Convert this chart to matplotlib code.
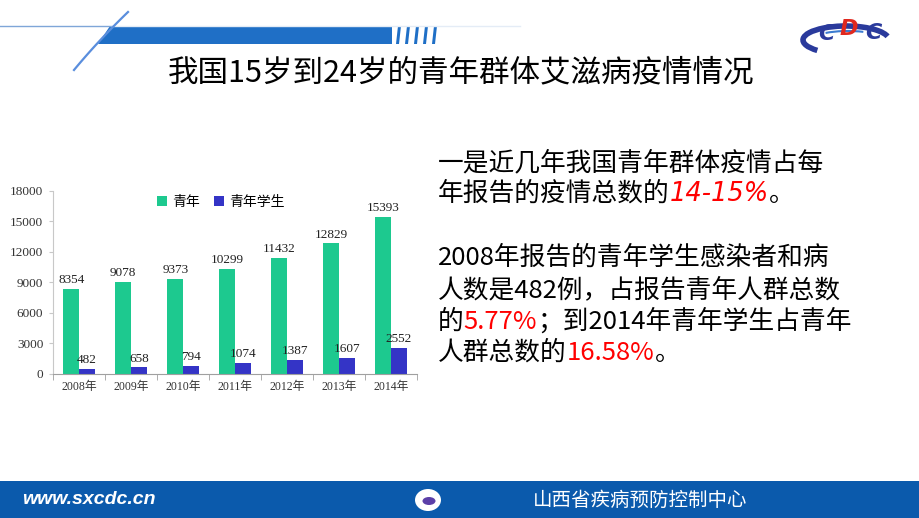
import numpy as np
import matplotlib.pyplot as plt
from matplotlib.patches import Polygon, Rectangle, Ellipse, Arc

plt.rcParams['font.family'] = ['Noto Sans CJK SC', 'DejaVu Sans']

# données du graphique
annees = ['2008年', '2009年', '2010年', '2011年', '2012年', '2013年', '2014年']
jeunes = [8354, 9078, 9373, 10299, 11432, 12829, 15393]
etudiants = [482, 658, 794, 1074, 1387, 1607, 2552]
series_noms = ['青年', '青年学生']
yticks = [0, 3000, 6000, 9000, 12000, 15000, 18000]

vert = '#1DC98F'
bleu = '#3434C6'
serif = ['Liberation Serif', 'Noto Sans CJK SC']

fig = plt.figure(figsize=(9.2, 5.18), dpi=100)

# fond de la diapositive en coordonnées pixel
bg = fig.add_axes([0, 0, 1, 1])
bg.set_xlim(0, 920)
bg.set_ylim(518, 0)
bg.axis('off')

# bandeau d'en-tête
bg.plot([0, 112], [25.5, 25.5], color='#7FA6D8', lw=1)
bg.plot([112, 520], [25.5, 25.5], color='#E4ECF6', lw=1)
bg.add_patch(Polygon([(110, 26), (392, 26), (392, 44), (98, 44)], closed=True,
                     color='#1F6FC6', lw=0))
for k in range(5):
    x0 = 396 + k * 9
    bg.add_patch(Polygon([(x0 + 2, 26), (x0 + 5, 26), (x0 + 3, 44), (x0, 44)],
                         closed=True, color='#1F6FC6', lw=0))
t = np.linspace(0, 1, 30)
bg.plot(128 - 54 * t - 6 * t * (1 - t), 12 + 58 * t, color='#5A8EDD', lw=1.6)

# logo CDC
bg.add_patch(Arc((846, 40), 86, 28, theta1=160, theta2=355, color='#2A3A9C', lw=4))
bg.add_patch(Arc((848, 39), 68, 16, theta1=195, theta2=335, color='#3B7BD0', lw=1.5))
bg.text(826, 34, 'C', color='#2A3A9C', fontsize=16, fontweight='bold',
        style='italic', family='DejaVu Sans', ha='center', va='center')
bg.text(849, 29, 'D', color='#E0281E', fontsize=16, fontweight='bold',
        style='italic', family='DejaVu Sans', ha='center', va='center')
bg.text(873, 33, 'C', color='#2A3A9C', fontsize=16, fontweight='bold',
        style='italic', family='DejaVu Sans', ha='center', va='center')

# titre
bg.text(461, 73, '我国15岁到24岁的青年群体艾滋病疫情情况', fontsize=22,
        ha='center', va='center', color='black')

# pied de page
bg.add_patch(Rectangle((0, 481), 920, 37, color='#0B5AAC', lw=0))
bg.text(22, 500, 'www.sxcdc.cn', color='white', fontsize=14, fontweight='bold',
        style='italic', family='Liberation Sans', ha='left', va='center')
bg.add_patch(Ellipse((428, 500), 26, 22, color='white', lw=0))
bg.add_patch(Ellipse((429, 501), 13, 8, color='#5B3FA8', lw=0))
bg.text(640, 500, '山西省疾病预防控制中心', color='white', fontsize=14,
        ha='center', va='center')

# texte de droite
lignes = [
    (163, [('一是近几年我国青年群体疫情占每', 'black', 'normal')]),
    (194, [('年报告的疫情总数的', 'black', 'normal'), ('14-15%', 'red', 'italic'),
           ('。', 'black', 'normal')]),
    (258, [('2008年报告的青年学生感染者和病', 'black', 'normal')]),
    (290, [('人数是482例，占报告青年人群总数', 'black', 'normal')]),
    (322, [('的', 'black', 'normal'), ('5.77%', 'red', 'normal'),
           ('；到2014年青年学生占青年', 'black', 'normal')]),
    (353, [('人群总数的', 'black', 'normal'), ('16.58%', 'red', 'normal'),
           ('。', 'black', 'normal')]),
]
for y, morceaux in lignes:
    prev = None
    for txt, col, sty in morceaux:
        fam = ['DejaVu Sans'] if sty == 'italic' else ['Noto Sans CJK SC', 'DejaVu Sans']
        if prev is None:
            prev = bg.text(438, y, txt, color=col, fontsize=18.5, ha='left',
                           va='center', family=fam, style=sty)
        else:
            prev = bg.annotate(txt, xy=(1, 0), xycoords=prev, ha='left', va='bottom',
                               color=col, fontsize=18.5, family=fam, style=sty)

# graphique en barres
ax = fig.add_axes([53 / 920, 1 - 374 / 518, 364 / 920, 183.3 / 518])
x = np.arange(len(annees))
w = 0.3
b1 = ax.bar(x - w / 2, jeunes, w, color=vert, label=series_noms[0])
b2 = ax.bar(x + w / 2, etudiants, w, color=bleu, label=series_noms[1])
for r, v in zip(b1, jeunes):
    ax.annotate(str(v), (r.get_x() + r.get_width() / 2, v), xytext=(0, 2),
                textcoords='offset points', ha='center', va='bottom',
                fontsize=9.5, family=serif, color='#222222')
for r, v in zip(b2, etudiants):
    ax.annotate(str(v), (r.get_x() + r.get_width() / 2, v), xytext=(0, 2),
                textcoords='offset points', ha='center', va='bottom',
                fontsize=9.5, family=serif, color='#222222')

ax.set_xlim(-0.5, len(annees) - 0.5)
ax.set_ylim(0, 18000)
ax.set_yticks(yticks)
ax.set_yticklabels([str(v) for v in yticks], fontsize=9.5, family=serif, color='#333333')
ax.set_xticks(x)
ax.set_xticklabels(annees, fontsize=8.5, family=serif, color='#333333')
ax.set_xticks(np.arange(-0.5, len(annees)), minor=True)
ax.tick_params(axis='x', which='major', length=0, pad=5)
ax.tick_params(axis='x', which='minor', length=4, color='#A0A0A0', direction='out')
ax.tick_params(axis='y', length=3, color='#C8C8C8', direction='out', pad=4)
for s in ['top', 'right']:
    ax.spines[s].set_visible(False)
ax.spines['left'].set_color('#C8C8C8')
ax.spines['bottom'].set_color('#A0A0A0')
ax.patch.set_alpha(0)

ax.legend(loc='center left', bbox_to_anchor=(150 / 920, 1 - 202 / 518),
          bbox_transform=fig.transFigure, ncol=2, frameon=False,
          handlelength=0.7, handleheight=0.7, handletextpad=0.4,
          columnspacing=1.0, borderpad=0, prop={'size': 10})

fig.savefig('out.png', dpi=100)
